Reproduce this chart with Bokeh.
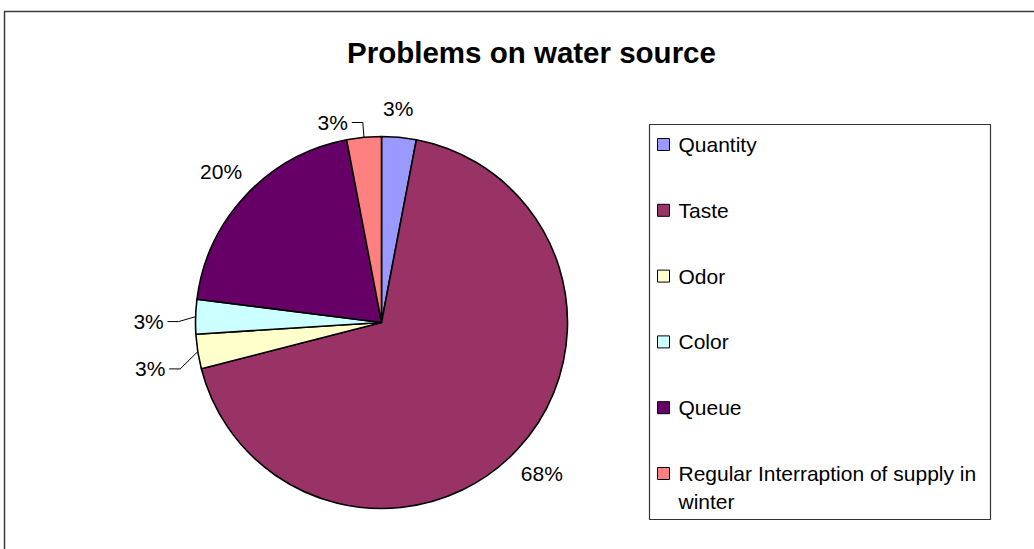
import math
import textwrap
from bokeh.plotting import figure
from bokeh.models import ColumnDataSource, BoxAnnotation
from bokeh.core.properties import value
from bokeh.embed import file_html
from bokeh.resources import INLINE

# ---- data ----
categories = ["Quantity", "Taste", "Odor", "Color", "Queue",
              "Regular Interraption of supply in winter"]
percents = [3, 68, 3, 3, 20, 3]
colors = ["#9999FF", "#993366", "#FFFFCC", "#CCFFFF", "#660066", "#FF8080"]
title_text = "Problems on water source"

# ---- layout (pixels, measured from top-left) ----
W, H = 1034, 549
def Y(py):
    return H - py

CX, CY = 381, 322
R = 186
LABEL_R = 220
# label nudges (dx, dy in screen px) and whether a leader line is drawn
label_adjust = {
    "Quantity": (-4, 5, False),
    "Odor": (-14, 12, True),
    "Color": (-13, 6, True),
    "Regular Interraption of supply in winter": (-28, 19, True),
}
FONT = "Liberation Sans"

p = figure(width=W, height=H, x_range=(0, W), y_range=(0, H),
           output_backend="svg", toolbar_location=None,
           x_axis_location=None, y_axis_location=None,
           min_border=0, min_border_left=0, min_border_right=0,
           min_border_top=0, min_border_bottom=0)
p.grid.visible = False
p.outline_line_color = None
p.background_fill_color = "white"
p.border_fill_color = "white"

# outer chart border (only left and top visible)
p.add_layout(BoxAnnotation(left=4, right=W + 20, top=Y(11), bottom=-20,
                           fill_alpha=0, line_color="#3a3a3a", line_alpha=1,
                           line_width=1.5, level="underlay"))

# ---- pie ----
total = float(sum(percents))
starts, ends, mids = [], [], []
cum = 0.0
for v in percents:
    a = cum / total
    b = (cum + v) / total
    # clockwise from 12 o'clock -> anticlockwise math angles
    starts.append(math.pi / 2 - 2 * math.pi * b)
    ends.append(math.pi / 2 - 2 * math.pi * a)
    mids.append((a + b) / 2)
    cum += v

src = ColumnDataSource(dict(start=starts, end=ends, color=colors, cat=categories))
p.wedge(x=CX, y=Y(CY), radius=R, start_angle="start", end_angle="end",
        fill_color="color", line_color="black", line_width=1.6,
        direction="anticlock", source=src)

# ---- percentage labels ----
lx, ly, lt = [], [], []
lead_xs, lead_ys = [], []
for cat, v, m in zip(categories, percents, mids):
    ang = 2 * math.pi * m  # clockwise from top
    px = CX + LABEL_R * math.sin(ang)
    py = CY - LABEL_R * math.cos(ang)
    dx, dy, lead = label_adjust.get(cat, (0, 0, False))
    px += dx
    py += dy
    lx.append(px)
    ly.append(Y(py))
    lt.append(f"{v}%")
    if lead:
        ex = CX + R * math.sin(ang)
        ey = CY - R * math.cos(ang)
        lead_xs.append([px + 19, px + 30, ex])
        lead_ys.append([Y(py), Y(py), Y(ey)])

p.multi_line(xs=lead_xs, ys=lead_ys, line_color="black", line_width=1)
p.text(x=lx, y=ly, text=lt, text_font=value(FONT), text_font_size="21px",
       text_align="center", text_baseline="middle", text_color="black")

# ---- title ----
p.text(x=[531], y=[Y(52)], text=[title_text], text_font=value(FONT),
       text_font_size="29.5px", text_font_style="bold",
       text_align="center", text_baseline="middle", text_color="black")

# ---- legend ----
LEG_L, LEG_R, LEG_T, LEG_B = 649, 990, 124, 519
p.add_layout(BoxAnnotation(left=LEG_L, right=LEG_R, top=Y(LEG_T), bottom=Y(LEG_B),
                           fill_color="white", fill_alpha=1,
                           line_color="#333333", line_alpha=1, line_width=1.2,
                           level="underlay"))
ROW0, ROW_STEP, LINE_STEP = 144, 65.8, 28
sw_x, sw_y, t_x, t_y, t_txt = [], [], [], [], []
for i, cat in enumerate(categories):
    ry = ROW0 + i * ROW_STEP
    sw_x.append(663)
    sw_y.append(Y(ry))
    for j, line in enumerate(textwrap.wrap(cat, 34)):
        t_x.append(678)
        t_y.append(Y(ry + j * LINE_STEP))
        t_txt.append(line)

p.rect(x=sw_x, y=sw_y, width=12, height=12, fill_color=colors,
       line_color="black", line_width=1)
p.text(x=t_x, y=t_y, text=t_txt, text_font=value(FONT), text_font_size="21px",
       text_align="left", text_baseline="middle", text_color="black")

open("out.html", "w").write(file_html(p, INLINE))
